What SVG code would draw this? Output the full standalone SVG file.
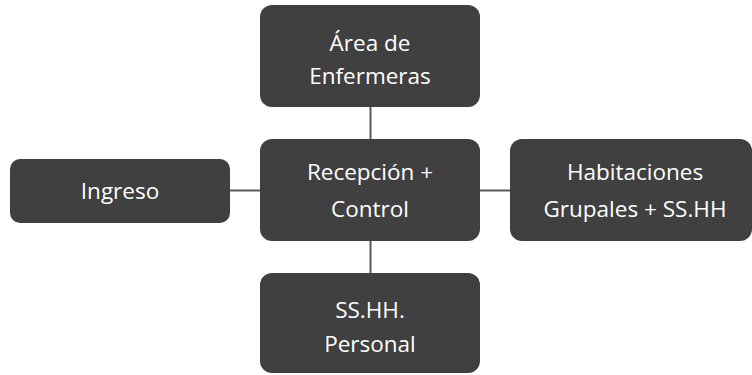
<svg xmlns="http://www.w3.org/2000/svg" width="752" height="375" viewBox="0 0 752 375">
<style>
.box{fill:#404040;}
.t{font-family:"Open Sans","Liberation Sans",sans-serif;font-size:22.5px;fill:#ffffff;text-anchor:middle;}
.c{stroke:#595959;stroke-width:2;fill:none;}
</style>
<rect width="752" height="375" fill="#ffffff"/>
<g id="connectors">
<line class="c" x1="370.5" y1="106" x2="370.5" y2="139"/>
<line class="c" x1="230" y1="190.5" x2="260" y2="190.5"/>
<line class="c" x1="480" y1="190.5" x2="510" y2="190.5"/>
<line class="c" x1="370.5" y1="240" x2="370.5" y2="273"/>
</g>
<g id="enfermeras">
<rect class="box" x="260" y="5" width="220" height="102" rx="12"/>
<text class="t" x="370" y="51">Área de</text>
<text class="t" x="370" y="84">Enfermeras</text>
</g>
<g id="recepcion">
<rect class="box" x="260" y="139" width="220" height="102" rx="12"/>
<text class="t" x="370" y="180">Recepción +</text>
<text class="t" x="370" y="217">Control</text>
</g>
<g id="ingreso">
<rect class="box" x="10" y="159" width="220" height="64" rx="10"/>
<text class="t" x="120" y="199">Ingreso</text>
</g>
<g id="habitaciones">
<rect class="box" x="510" y="139" width="242" height="102" rx="12"/>
<text class="t" x="635" y="180">Habitaciones</text>
<text class="t" x="635" y="217">Grupales + SS.HH</text>
</g>
<g id="sshh">
<rect class="box" x="260" y="273" width="220" height="100" rx="12"/>
<text class="t" x="370" y="318">SS.HH.</text>
<text class="t" x="370" y="352">Personal</text>
</g>
</svg>
